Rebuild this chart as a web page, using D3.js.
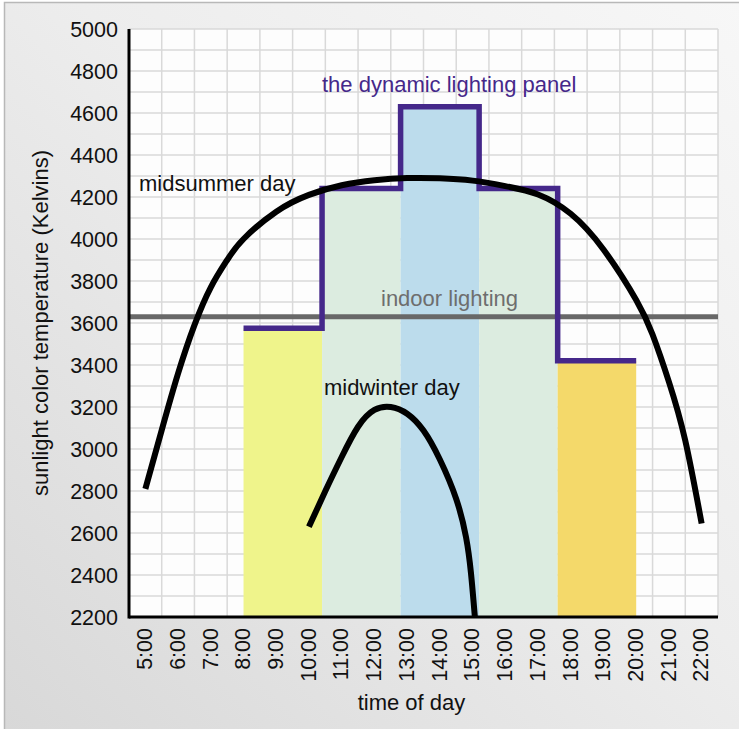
<!DOCTYPE html>
<html>
<head>
<meta charset="utf-8">
<script src="https://cdn.jsdelivr.net/npm/d3@7"></script>
<style>
  body { margin: 0; background: #fff; }
  text { font-family: "Liberation Sans", Arial, sans-serif; }
</style>
</head>
<body>
<div id="my_dataviz"></div>
<script>
// tick labels
const hourLabels = ["5:00","6:00","7:00","8:00","9:00","10:00","11:00","12:00","13:00",
  "14:00","15:00","16:00","17:00","18:00","19:00","20:00","21:00","22:00"];
const hourValues = [5,6,7,8,9,10,11,12,13,14,15,16,17,18,19,20,21,22];
const kelvinTicks = [2200,2400,2600,2800,3000,3200,3400,3600,3800,4000,4200,4400,4600,4800,5000];

// midsummer day curve (hour of day, Kelvins)
const summerTime = [5, 5.5, 6, 6.5, 7, 7.5, 8, 9, 10, 11, 12, 13, 14, 15, 16, 17, 18, 19, 20, 20.5, 21, 21.5, 22];
const summerK = [2810, 3090, 3360, 3590, 3770, 3900, 4000, 4130, 4210, 4256, 4280, 4290, 4289, 4278, 4252, 4212, 4120, 3950, 3710, 3545, 3320, 3040, 2645];

// midwinter day curve
const winterTime = [10, 10.5, 11, 11.5, 12, 12.5, 13, 13.5, 14, 14.5, 14.8, 14.95, 15.07];
const winterK = [2630, 2800, 2962, 3106, 3186, 3200, 3168, 3088, 2950, 2762, 2580, 2410, 2200];

// dynamic lighting panel steps
const panelStart = [8, 10.4, 12.8, 15.2, 17.6];
const panelEnd = [10.4, 12.8, 15.2, 17.6, 20];
const panelK = [3575, 4240, 4630, 4240, 3420];
const panelColors = ["#eff48b", "#dcece0", "#bcdcec", "#dcece0", "#f4d96a"];

// indoor lighting level
const indoorK = 3630;

const W = 739, H = 729;
const margin = {top: 29, right: 21, bottom: 112, left: 129},
  width = W - margin.left - margin.right,
  height = H - margin.top - margin.bottom;

const root = d3.select("#my_dataviz")
  .append("svg")
  .attr("width", W)
  .attr("height", H);

// background panel with soft gradient
const grad = root.append("defs").append("linearGradient")
  .attr("id", "bg").attr("x1", "0").attr("y1", "1").attr("x2", "1").attr("y2", "0");
grad.append("stop").attr("offset", "0").attr("stop-color", "#d8d8d8");
grad.append("stop").attr("offset", "0.55").attr("stop-color", "#ededed");
grad.append("stop").attr("offset", "1").attr("stop-color", "#f7f7f7");

root.append("rect")
  .attr("x", 4.5).attr("y", 2.5)
  .attr("width", W).attr("height", H)
  .attr("fill", "url(#bg)")
  .attr("stroke", "#b8b8b8")
  .attr("stroke-width", 1.5);

const svg = root.append("g")
  .attr("transform", `translate(${margin.left},${margin.top})`);

// scales: each hour sits in the middle of its grid column
const x = d3.scaleLinear().domain([4.5, 22.5]).range([0, width]);
const y = d3.scaleLinear().domain([2200, 5000]).range([height, 0]);

// plot area
svg.append("rect")
  .attr("width", width).attr("height", height)
  .attr("fill", "#fdfdfd");

// grid
svg.append("g")
  .selectAll("line")
  .data(d3.range(4.5, 22.51, 1))
  .join("line")
  .attr("x1", d => x(d)).attr("x2", d => x(d))
  .attr("y1", 0).attr("y2", height)
  .attr("stroke", "#d9d9d9").attr("stroke-width", 1.5);

svg.append("g")
  .selectAll("line")
  .data(d3.range(2200, 5001, 100))
  .join("line")
  .attr("x1", 0).attr("x2", width)
  .attr("y1", d => y(d)).attr("y2", d => y(d))
  .attr("stroke", "#d9d9d9").attr("stroke-width", 1.5);

// panel fills
svg.append("g")
  .selectAll("rect")
  .data(panelK)
  .join("rect")
  .attr("x", (d, i) => x(panelStart[i]))
  .attr("width", (d, i) => x(panelEnd[i]) - x(panelStart[i]))
  .attr("y", d => y(d))
  .attr("height", d => height - y(d))
  .attr("fill", (d, i) => panelColors[i]);

// indoor lighting line
svg.append("line")
  .attr("x1", 0).attr("x2", width)
  .attr("y1", y(indoorK)).attr("y2", y(indoorK))
  .attr("stroke", "#686868").attr("stroke-width", 5);

// panel outline as a step line
const steps = [];
panelK.forEach((k, i) => {
  steps.push([panelStart[i], k]);
  steps.push([panelEnd[i], k]);
});
svg.append("path")
  .attr("d", d3.line().x(d => x(d[0])).y(d => y(d[1]))(steps))
  .attr("fill", "none")
  .attr("stroke", "#45288a")
  .attr("stroke-width", 5.5);

// sunlight curves
const curve = d3.line()
  .x(d => x(d[0])).y(d => y(d[1]))
  .curve(d3.curveNatural);

svg.append("path")
  .attr("d", curve(summerTime.map((t, i) => [t, summerK[i]])))
  .attr("fill", "none").attr("stroke", "#000").attr("stroke-width", 6);

svg.append("path")
  .attr("d", curve(winterTime.map((t, i) => [t, winterK[i]])))
  .attr("fill", "none").attr("stroke", "#000").attr("stroke-width", 6);

// axes lines
svg.append("line")
  .attr("x1", 0).attr("x2", 0).attr("y1", 0).attr("y2", height + 1.5)
  .attr("stroke", "#000").attr("stroke-width", 3);
svg.append("line")
  .attr("x1", 0).attr("x2", width).attr("y1", height).attr("y2", height)
  .attr("stroke", "#000").attr("stroke-width", 3);

// y tick labels
svg.append("g")
  .selectAll("text")
  .data(kelvinTicks)
  .join("text")
  .attr("x", -11)
  .attr("y", d => y(d))
  .attr("dy", "0.36em")
  .attr("text-anchor", "end")
  .style("font-size", "21.5px")
  .style("fill", "#111")
  .text(d => d);

// x tick labels, rotated
svg.append("g")
  .selectAll("text")
  .data(hourValues)
  .join("text")
  .attr("transform", d => `translate(${x(d) - 1},${height + 11}) rotate(-90)`)
  .attr("dy", "0.36em")
  .attr("text-anchor", "end")
  .style("font-size", "21.5px")
  .style("fill", "#111")
  .text((d, i) => hourLabels[i]);

// axis titles
svg.append("text")
  .attr("x", width / 2 - 12)
  .attr("y", height + 93)
  .attr("text-anchor", "middle")
  .style("font-size", "22px")
  .style("fill", "#111")
  .text("time of day");

svg.append("text")
  .attr("transform", `translate(${-81},${height / 2}) rotate(-90)`)
  .attr("text-anchor", "middle")
  .style("font-size", "22px")
  .style("fill", "#111")
  .text("sunlight color temperature (Kelvins)");

// annotations
svg.append("text")
  .attr("x", 10).attr("y", 162)
  .style("font-size", "22px").style("fill", "#111")
  .text("midsummer day");

svg.append("text")
  .attr("x", 195).attr("y", 366)
  .style("font-size", "22px").style("fill", "#111")
  .text("midwinter day");

svg.append("text")
  .attr("x", 193).attr("y", 63)
  .style("font-size", "22px").style("fill", "#45288a")
  .text("the dynamic lighting panel");

svg.append("text")
  .attr("x", 252).attr("y", 277)
  .style("font-size", "22px").style("fill", "#6e6e6e")
  .text("indoor lighting");
</script>
</body>
</html>
